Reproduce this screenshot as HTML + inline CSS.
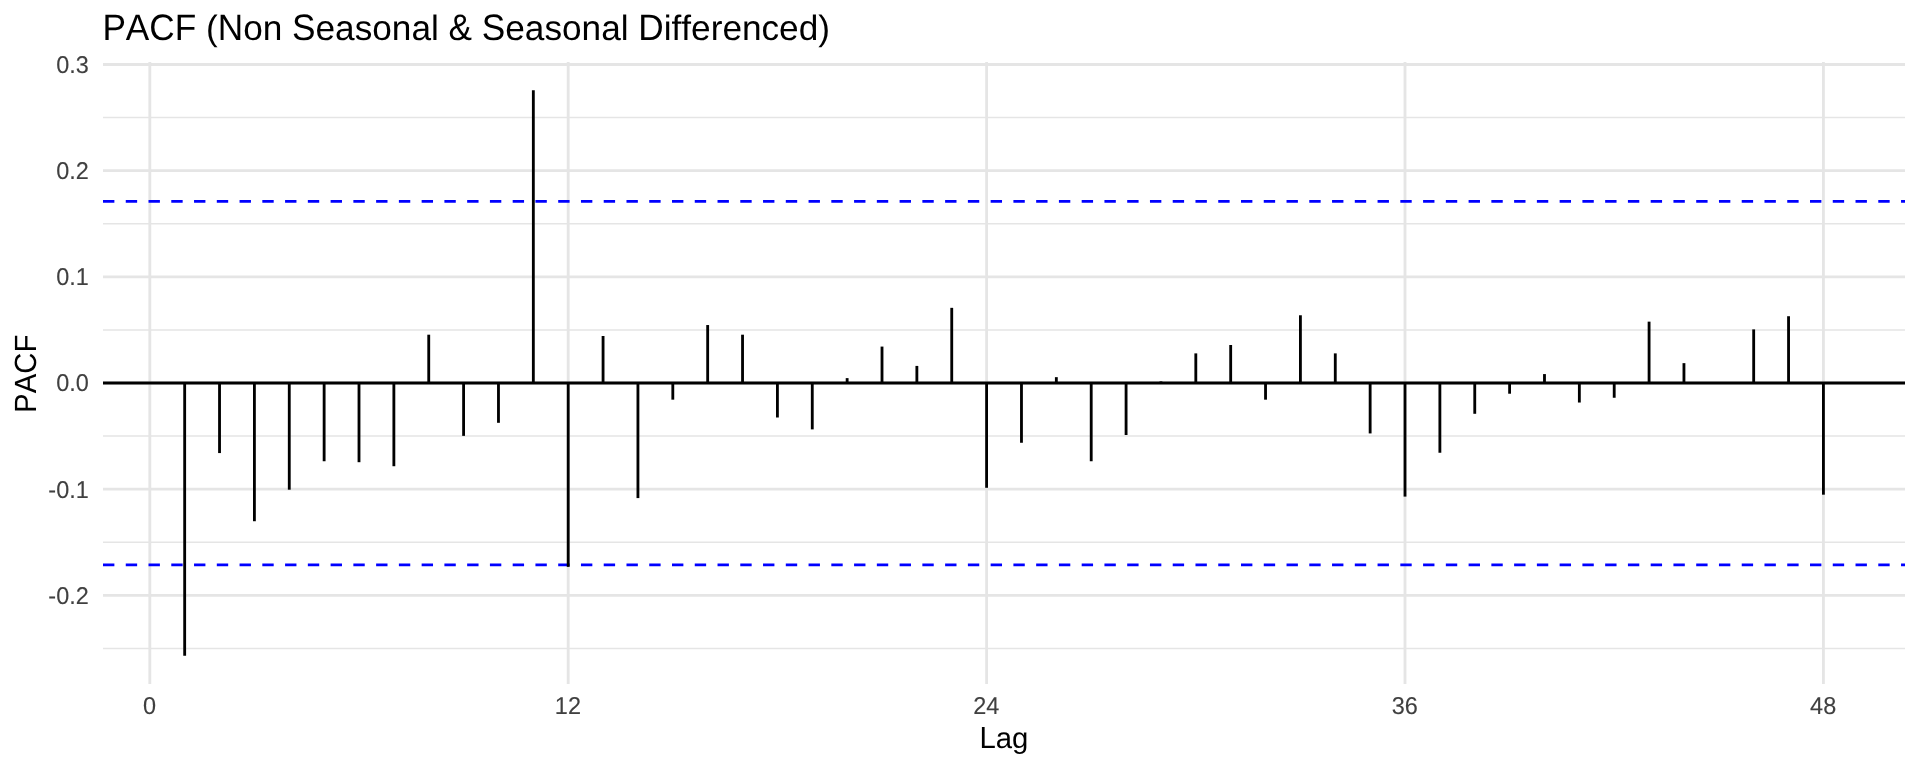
<!DOCTYPE html>
<html><head><meta charset="utf-8"><title>PACF</title>
<style>
html,body{margin:0;padding:0;background:#fff;}
body{width:1920px;height:768px;overflow:hidden;}
svg{display:block;will-change:transform;}
text{font-family:"Liberation Sans",sans-serif;font-kerning:none;font-variant-ligatures:none;font-feature-settings:"kern" 0,"liga" 0;text-rendering:geometricPrecision;}
</style></head><body>
<svg width="1920" height="768" viewBox="0 0 1920 768">
<rect width="1920" height="768" fill="#fff"/>
<g stroke="#E5E5E5" stroke-width="1.42" fill="none">
<line x1="103" x2="1905" y1="117.58" y2="117.58"/>
<line x1="103" x2="1905" y1="223.75" y2="223.75"/>
<line x1="103" x2="1905" y1="329.92" y2="329.92"/>
<line x1="103" x2="1905" y1="436.08" y2="436.08"/>
<line x1="103" x2="1905" y1="542.25" y2="542.25"/>
<line x1="103" x2="1905" y1="648.42" y2="648.42"/>
</g>
<g stroke="#E5E5E5" stroke-width="2.84" fill="none">
<line x1="103" x2="1905" y1="64.50" y2="64.50"/>
<line x1="103" x2="1905" y1="170.67" y2="170.67"/>
<line x1="103" x2="1905" y1="276.83" y2="276.83"/>
<line x1="103" x2="1905" y1="383.00" y2="383.00"/>
<line x1="103" x2="1905" y1="489.17" y2="489.17"/>
<line x1="103" x2="1905" y1="595.33" y2="595.33"/>
<line x1="149.80" x2="149.80" y1="62" y2="684"/>
<line x1="568.20" x2="568.20" y1="62" y2="684"/>
<line x1="986.61" x2="986.61" y1="62" y2="684"/>
<line x1="1405.01" x2="1405.01" y1="62" y2="684"/>
<line x1="1823.42" x2="1823.42" y1="62" y2="684"/>
</g>
<line x1="103" x2="1905" y1="383.00" y2="383.00" stroke="#000" stroke-width="2.84"/>
<g stroke="#0000FF" stroke-width="2.84" stroke-dasharray="11.38 11.38" fill="none">
<line x1="103" x2="1905" y1="201.40" y2="201.40"/>
<line x1="103" x2="1905" y1="564.90" y2="564.90"/>
</g>
<g stroke="#000" stroke-width="2.84" fill="none">
<line x1="184.67" x2="184.67" y1="383.00" y2="655.74"/>
<line x1="219.53" x2="219.53" y1="383.00" y2="453.07"/>
<line x1="254.40" x2="254.40" y1="383.00" y2="521.23"/>
<line x1="289.27" x2="289.27" y1="383.00" y2="489.70"/>
<line x1="324.13" x2="324.13" y1="383.00" y2="461.25"/>
<line x1="359.00" x2="359.00" y1="383.00" y2="462.20"/>
<line x1="393.87" x2="393.87" y1="383.00" y2="466.23"/>
<line x1="428.74" x2="428.74" y1="383.00" y2="334.69"/>
<line x1="463.60" x2="463.60" y1="383.00" y2="435.87"/>
<line x1="498.47" x2="498.47" y1="383.00" y2="422.81"/>
<line x1="533.34" x2="533.34" y1="383.00" y2="90.30"/>
<line x1="568.20" x2="568.20" y1="383.00" y2="566.88"/>
<line x1="603.07" x2="603.07" y1="383.00" y2="335.97"/>
<line x1="637.94" x2="637.94" y1="383.00" y2="498.09"/>
<line x1="672.81" x2="672.81" y1="383.00" y2="399.67"/>
<line x1="707.67" x2="707.67" y1="383.00" y2="325.03"/>
<line x1="742.54" x2="742.54" y1="383.00" y2="334.69"/>
<line x1="777.41" x2="777.41" y1="383.00" y2="417.50"/>
<line x1="812.27" x2="812.27" y1="383.00" y2="429.39"/>
<line x1="847.14" x2="847.14" y1="383.00" y2="378.12"/>
<line x1="882.01" x2="882.01" y1="383.00" y2="346.58"/>
<line x1="916.87" x2="916.87" y1="383.00" y2="365.91"/>
<line x1="951.74" x2="951.74" y1="383.00" y2="307.83"/>
<line x1="986.61" x2="986.61" y1="383.00" y2="487.79"/>
<line x1="1021.47" x2="1021.47" y1="383.00" y2="442.77"/>
<line x1="1056.34" x2="1056.34" y1="383.00" y2="377.16"/>
<line x1="1091.21" x2="1091.21" y1="383.00" y2="461.25"/>
<line x1="1126.08" x2="1126.08" y1="383.00" y2="435.02"/>
<line x1="1160.94" x2="1160.94" y1="383.00" y2="381.41"/>
<line x1="1195.81" x2="1195.81" y1="383.00" y2="353.38"/>
<line x1="1230.68" x2="1230.68" y1="383.00" y2="344.99"/>
<line x1="1265.54" x2="1265.54" y1="383.00" y2="399.67"/>
<line x1="1300.41" x2="1300.41" y1="383.00" y2="315.27"/>
<line x1="1335.28" x2="1335.28" y1="383.00" y2="353.38"/>
<line x1="1370.14" x2="1370.14" y1="383.00" y2="433.43"/>
<line x1="1405.01" x2="1405.01" y1="383.00" y2="496.60"/>
<line x1="1439.88" x2="1439.88" y1="383.00" y2="452.75"/>
<line x1="1474.75" x2="1474.75" y1="383.00" y2="413.79"/>
<line x1="1509.61" x2="1509.61" y1="383.00" y2="393.72"/>
<line x1="1544.48" x2="1544.48" y1="383.00" y2="374.08"/>
<line x1="1579.35" x2="1579.35" y1="383.00" y2="402.53"/>
<line x1="1614.21" x2="1614.21" y1="383.00" y2="397.76"/>
<line x1="1649.08" x2="1649.08" y1="383.00" y2="321.64"/>
<line x1="1683.95" x2="1683.95" y1="383.00" y2="363.15"/>
<line x1="1753.68" x2="1753.68" y1="383.00" y2="329.39"/>
<line x1="1788.55" x2="1788.55" y1="383.00" y2="316.22"/>
<line x1="1823.42" x2="1823.42" y1="383.00" y2="494.69"/>
</g>
<text transform="translate(102.400,40.20) scale(1,1.045)" font-size="35.2" fill="#000" xml:space="preserve">PACF</text>
<text x="196.244" y="40.20" font-size="35.2" fill="#000" xml:space="preserve"> (</text>
<text transform="translate(217.728,40.20) scale(1,1.045)" font-size="35.2" fill="#000" xml:space="preserve">N</text>
<text x="243.150" y="40.20" font-size="35.2" fill="#000" xml:space="preserve">on </text>
<text transform="translate(292.056,40.20) scale(1,1.045)" font-size="35.2" fill="#000" xml:space="preserve">S</text>
<text x="315.525" y="40.20" font-size="35.2" fill="#000" xml:space="preserve">easonal </text>
<text transform="translate(448.556,40.20) scale(1,1.045)" font-size="35.2" fill="#000" xml:space="preserve">&amp;</text>
<text transform="translate(481.806,40.20) scale(1,1.045)" font-size="35.2" fill="#000" xml:space="preserve">S</text>
<text x="505.275" y="40.20" font-size="35.2" fill="#000" xml:space="preserve">easonal </text>
<text transform="translate(638.322,40.20) scale(1,1.045)" font-size="35.2" fill="#000" xml:space="preserve">D</text>
<text x="663.728" y="40.20" font-size="35.2" fill="#000" xml:space="preserve">ifferenced)</text>
<g font-size="23.47" fill="#404040" stroke="#404040" stroke-width="0.12" text-anchor="end">
<text transform="translate(88.8,72.95) scale(1,1.033)">0.3</text>
<text transform="translate(88.8,179.12) scale(1,1.033)">0.2</text>
<text transform="translate(88.8,285.28) scale(1,1.033)">0.1</text>
<text transform="translate(88.8,391.45) scale(1,1.033)">0.0</text>
<text transform="translate(88.8,497.62) scale(1,1.033)">-0.1</text>
<text transform="translate(88.8,603.78) scale(1,1.033)">-0.2</text>
</g>
<g font-size="23.47" fill="#404040" stroke="#404040" stroke-width="0.12" text-anchor="middle">
<text transform="translate(149.50,714.2) scale(1,1.040)">0</text>
<text transform="translate(567.90,714.2) scale(1,1.040)">12</text>
<text transform="translate(986.31,714.2) scale(1,1.040)">24</text>
<text transform="translate(1404.71,714.2) scale(1,1.040)">36</text>
<text transform="translate(1823.12,714.2) scale(1,1.040)">48</text>
</g>
<text transform="translate(979.531,748.10) scale(1,1.045)" font-size="29.33" fill="#000" xml:space="preserve">L</text>
<text x="995.828" y="748.10" font-size="29.33" fill="#000" xml:space="preserve">ag</text>
<text transform="translate(35.9,373.8) rotate(-90) scale(1,1.045)" font-size="29.33" fill="#000" text-anchor="middle">PACF</text>
</svg>
</body></html>
